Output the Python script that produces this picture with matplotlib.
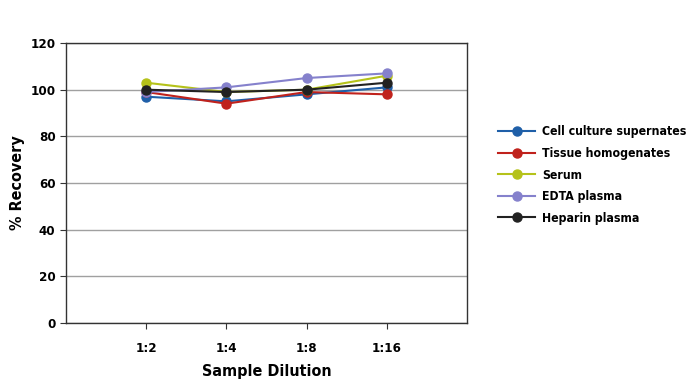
import matplotlib.pyplot as plt

plt.rcParams['font.family'] = ['DejaVu Sans']
plt.rcParams['font.stretch'] = 'condensed'

dilutions = ['1:2', '1:4', '1:8', '1:16']
cell_culture = [97, 95, 98, 101]
tissue = [99, 94, 99, 98]
serum = [103, 99, 100, 106]
edta = [99, 101, 105, 107]
heparin = [100, 99, 100, 103]

series = [
    ('Cell culture supernates', cell_culture, '#1f5fa8'),
    ('Tissue homogenates', tissue, '#c0221c'),
    ('Serum', serum, '#b5c21a'),
    ('EDTA plasma', edta, '#8581cc'),
    ('Heparin plasma', heparin, '#222222'),
]

fig = plt.figure(figsize=(6.94, 3.88), dpi=100)
ax = fig.add_axes([0.095, 0.168, 0.578, 0.721])

x = list(range(1, len(dilutions) + 1))
for name, vals, col in series:
    ax.plot(x, vals, color=col, marker='o', markersize=6.5, linewidth=1.5, label=name)

ax.set_xlim(0, 5)
ax.set_ylim(0, 120)
ax.set_yticks(range(0, 121, 20))
ax.set_xticks(x)
ax.set_xticklabels(dilutions)
ax.yaxis.grid(True, color='#a0a0a0', linewidth=1)
ax.set_axisbelow(True)
for s in ax.spines.values():
    s.set_color('#333333')
    s.set_linewidth(1)
ax.tick_params(axis='both', colors='#333333', length=4, labelsize=9.5, labelcolor='black')
for lab in ax.get_xticklabels() + ax.get_yticklabels():
    lab.set_fontweight('bold')
ax.tick_params(axis='x', pad=10)
ax.set_xlabel('Sample Dilution', fontsize=11.5, fontweight='bold', labelpad=6)
ax.set_ylabel('% Recovery', fontsize=11.5, fontweight='bold', labelpad=4)

leg = fig.legend(loc='upper left', bbox_to_anchor=(0.702, 0.705), frameon=False,
                 prop={'size': 8.8, 'weight': 'bold', 'stretch': 'condensed'},
                 handlelength=3.0, labelspacing=0.7, handletextpad=0.6)

fig.savefig('out.png', dpi=100)
